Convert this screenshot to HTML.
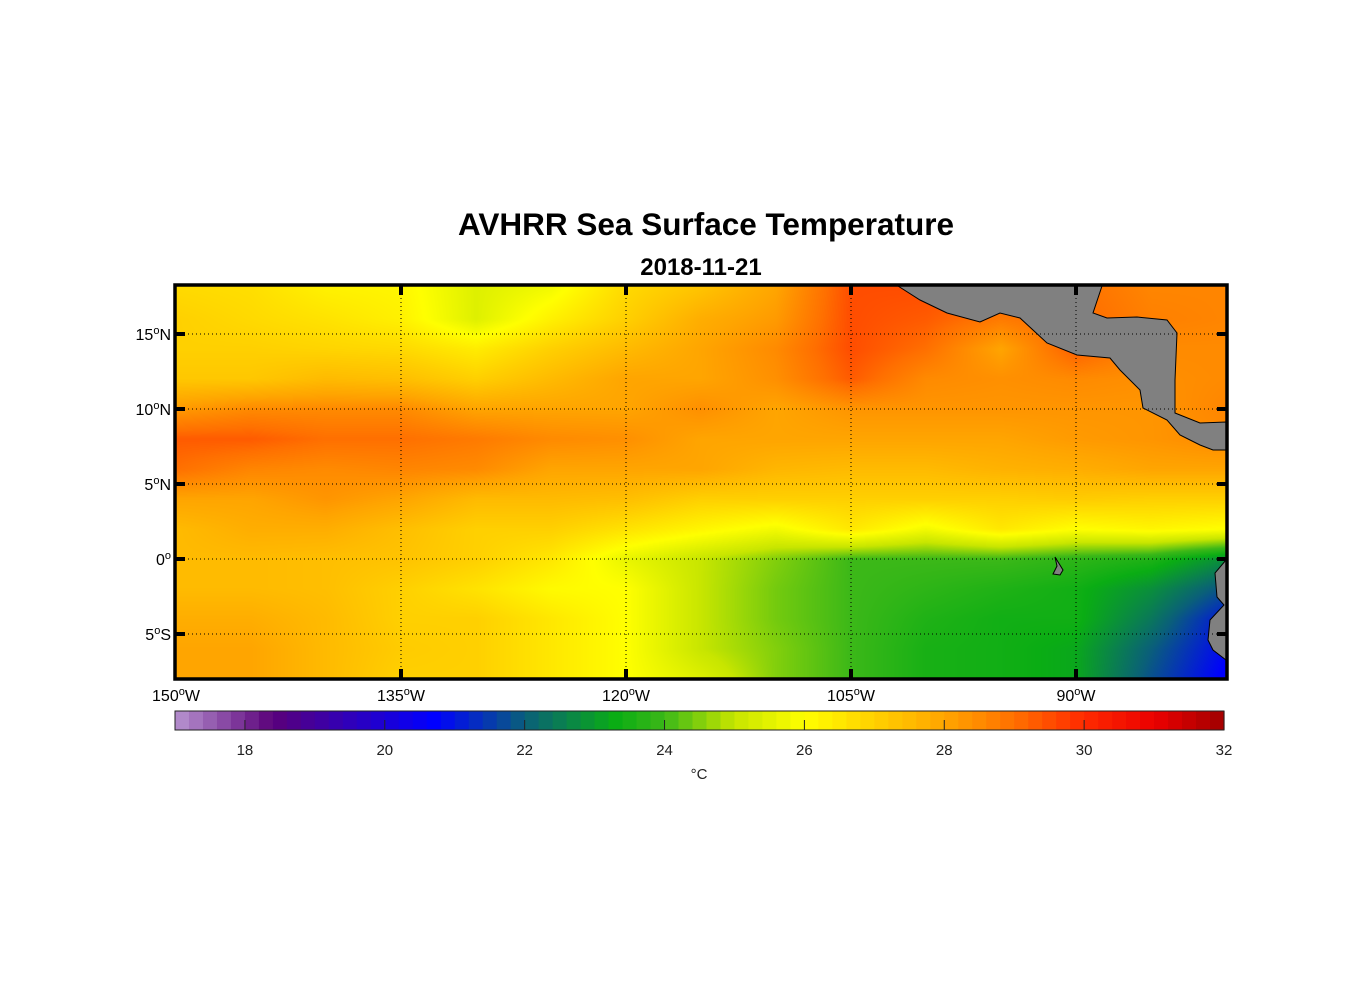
<!DOCTYPE html>
<html><head><meta charset="utf-8">
<style>
body{margin:0;background:#fff;width:1356px;height:1000px;overflow:hidden;font-family:"Liberation Sans",Arial,sans-serif;}
svg text{font-family:"Liberation Sans",Arial,sans-serif;}
#map{position:absolute;left:176px;top:286px;}
#cb{position:absolute;left:0;top:0;}
</style></head><body>
<canvas id="map" width="1050" height="392"></canvas>
<svg id="cb" width="1356" height="1000"></svg>
<script>
// Data grid: longitudes (deg W), latitudes (deg), SST values (°C) per row (north to south)
const lons = [150,145,140,135,130,125,120,115,110,105,100,95,90,85,80];
const lats = [18,16,14,12,10,8,6,4,2,0,-2,-4,-6,-8];
const sst18 = [26.8,26.7,26.3,26.2,25.4,25.8,26.8,27.3,28,29.5,29.5,29.3,29.0,28.6,28.6];
const sst16 = [27,26.8,26.6,26.3,25.4,26.3,27,27.8,28.2,29.5,29.3,28.8,29.1,28.7,28.6];
const sst14 = [27,27,26.9,26.8,26.4,27,27.5,28,28.5,29.5,29,28,29.3,28.5,28.5];
const sst12 = [27.2,27.2,27.5,27.4,27,27.5,28,28,28.4,29.3,28.5,28.4,28.5,28.4,28.5];
const sst10 = [28.2,28.5,28.5,28.5,28,28,28,28.4,28,28.3,28.3,28.3,28.3,28.3,28.6];
const sst8 = [29.3,29.3,29,29,28.8,28.5,28.4,28,28,28,28,28,28.2,28.3,28.5];
const sst6 = [29,28.6,28.5,28.6,28.5,28,28,28,27.6,27.5,27.5,27.7,27.8,28,28];
const sst4 = [28,28,28.3,28,27.5,27.5,27.4,27,27,27,27,27,27.1,27,27];
const sst2 = [27.5,27.8,27.8,27.4,27,27,26.6,26.2,25.8,26.5,25.8,26.5,26,26.2,26];
const sst0 = [27.5,27.5,27.4,27.3,27,26.5,25.6,25,24.5,24,24,24,23.8,23.6,22.8];
const sstS2 = [27.5,27.5,27.4,27,26.6,26.1,26,25,24.4,24,23.8,23.6,23.4,22.8,21.8];
const sstS4 = [27.8,27.8,27.5,27,27,26.5,26,25,24.4,24,23.6,23.4,23.4,22.4,21];
const sstS6 = [28,28,27.5,27.1,27,26.5,26,25,24.5,24,23.5,23.4,23.2,22,20.8];
const sstS8 = [28,28,27.5,27,27,26.5,26,25.4,24.5,24,23.5,23.4,23.2,21.8,20.6];
const sstRows = [sst18,sst16,sst14,sst12,sst10,sst8,sst6,sst4,sst2,sst0,sstS2,sstS4,sstS6,sstS8];
const cbTicks = [18,20,22,24,26,28,30,32];
const lonTicks = [150,135,120,105,90];
const latTicks = [15,10,5,0,-5];

const X0=176,X1=1226,Y0=286,Y1=678;
const xOfLon = l => X0 + (150-l)*15;
const yOfLat = a => 559 - a*15;
const T0=17,T1=32,CB0=175,CB1=1224;
const xOfT = t => CB0 + (t-T0)*(CB1-CB0)/(T1-T0);

const stops=[[17,[184,148,208]],[18.4,[90,0,122]],[20.7,[0,0,255]],[22,[10,95,122]],[23.3,[10,173,20]],[24,[60,184,24]],[25,[200,230,0]],[26,[255,255,0]],[27,[255,208,0]],[28,[255,165,0]],[29,[255,112,0]],[30,[255,42,0]],[31,[235,0,0]],[32,[160,0,0]]];
function cmap(t){
  if(t<=stops[0][0])return stops[0][1];
  for(let i=1;i<stops.length;i++){if(t<=stops[i][0]){const a=stops[i-1],b=stops[i],f=(t-a[0])/(b[0]-a[0]);return a[1].map((v,k)=>Math.round(v+(b[1][k]-v)*f));}}
  return stops[stops.length-1][1];
}
// heatmap
const cv=document.getElementById('map'),ctx=cv.getContext('2d');
const W=cv.width,H=cv.height,img=ctx.createImageData(W,H);
for(let py=0;py<H;py++){
  const lat=(559-(Y0+py+0.5))/15;
  let r=(lats[0]-lat)/(lats[0]-lats[1]);r=Math.max(0,Math.min(lats.length-1.001,r));
  const r0=Math.floor(r),fr=r-r0;
  for(let px=0;px<W;px++){
    const lon=150-(px+0.5)/15;
    let c=(lons[0]-lon)/(lons[0]-lons[1]);c=Math.max(0,Math.min(lons.length-1.001,c));
    const c0=Math.floor(c),fc=c-c0;
    const a=sstRows[r0],b=sstRows[r0+1];
    const t=(a[c0]*(1-fc)+a[c0+1]*fc)*(1-fr)+(b[c0]*(1-fc)+b[c0+1]*fc)*fr;
    const col=cmap(t),i=(py*W+px)*4;
    img.data[i]=col[0];img.data[i+1]=col[1];img.data[i+2]=col[2];img.data[i+3]=255;
  }
}
ctx.putImageData(img,0,0);

const svg=document.getElementById('cb'),NS='http://www.w3.org/2000/svg';
function mk(tag,attrs,parent){const e=document.createElementNS(NS,tag);for(const k in attrs)e.setAttribute(k,attrs[k]);(parent||svg).appendChild(e);return e;}
// land
const land1=mk('polygon',{points:'898,286 920,300 947,313 980,322 1000,313 1020,318 1047,343 1077,355 1110,358 1120,370 1140,390 1143,408 1167,420 1180,435 1200,445 1213,450 1226,450 1226,422 1200,423 1175,413 1175,380 1177,333 1167,320 1137,317 1107,318 1093,313 1102,286',fill:'#808080',stroke:'#000','stroke-width':1});


const land2=mk('polygon',{points:'1226,560 1215,573 1217,597 1224,605 1210,620 1208,640 1213,650 1226,660',fill:'#808080',stroke:'#000','stroke-width':1});


const land3=mk('polygon',{points:'1055,557 1063,570 1060,575 1053,574 1057,566',fill:'#808080',stroke:'#000','stroke-width':1});


// grid & ticks
lonTicks.forEach(l=>{
  const x=xOfLon(l);
  if(l!==150){const g=mk('line',{x1:x,y1:Y0,x2:x,y2:Y1,stroke:'#000','stroke-width':1,'stroke-dasharray':'1,3'});
  
  mk('line',{x1:x,y1:Y0,x2:x,y2:Y0+9,stroke:'#000','stroke-width':4});
  mk('line',{x1:x,y1:Y1-9,x2:x,y2:Y1,stroke:'#000','stroke-width':4});}
  const t=mk('text',{x:x,y:701,'font-size':16,'text-anchor':'middle',fill:'#000'});
  t.innerHTML=l+'<tspan dy="-6" font-size="11">o</tspan><tspan dy="6">W</tspan>';
  
});
latTicks.forEach(a=>{
  const y=yOfLat(a);
  const g=mk('line',{x1:X0,y1:y,x2:X1,y2:y,stroke:'#000','stroke-width':1,'stroke-dasharray':'1,3'});
  
  mk('line',{x1:X0,y1:y,x2:X0+9,y2:y,stroke:'#000','stroke-width':4});
  mk('line',{x1:X1-9,y1:y,x2:X1,y2:y,stroke:'#000','stroke-width':4});
  const t=mk('text',{x:171,y:y+6,'font-size':16,'text-anchor':'end',fill:'#000'});
  const suf=a>0?'N':(a<0?'S':'');
  t.innerHTML=Math.abs(a)+'<tspan dy="-6" font-size="11">o</tspan><tspan dy="6">'+suf+'</tspan>';
  
});
const fr=mk('rect',{x:X0-1,y:Y0-1,width:X1-X0+2,height:Y1-Y0+2,fill:'none',stroke:'#000','stroke-width':3.5});

// titles
const tt=mk('text',{x:706,y:235,'font-size':31.5,'font-weight':'bold','text-anchor':'middle'});tt.textContent='AVHRR Sea Surface Temperature';

const st=mk('text',{x:701,y:275,'font-size':24,'font-weight':'bold','text-anchor':'middle'});st.textContent='2018-11-21';

// colorbar
for(let t=T0;t<T1-0.001;t+=0.2){
  const c=cmap(t+0.1);
  const r=mk('rect',{x:xOfT(t),y:711,width:(CB1-CB0)*0.2/(T1-T0)+0.6,height:19,fill:'rgb('+c.join(',')+')'});
  
}
const cbf=mk('rect',{x:CB0,y:711,width:CB1-CB0,height:19,fill:'none',stroke:'#222','stroke-width':1});

cbTicks.forEach(v=>{
  const x=xOfT(v);
  mk('line',{x1:x,y1:720,x2:x,y2:730,stroke:'#222','stroke-width':1});
  const t=mk('text',{x:x,y:755,'font-size':15,'text-anchor':'middle',fill:'#222'});t.textContent=v;
  
});
const u=mk('text',{x:699,y:779,'font-size':15,'text-anchor':'middle',fill:'#222'});u.textContent='°C';

</script>
</body></html>
